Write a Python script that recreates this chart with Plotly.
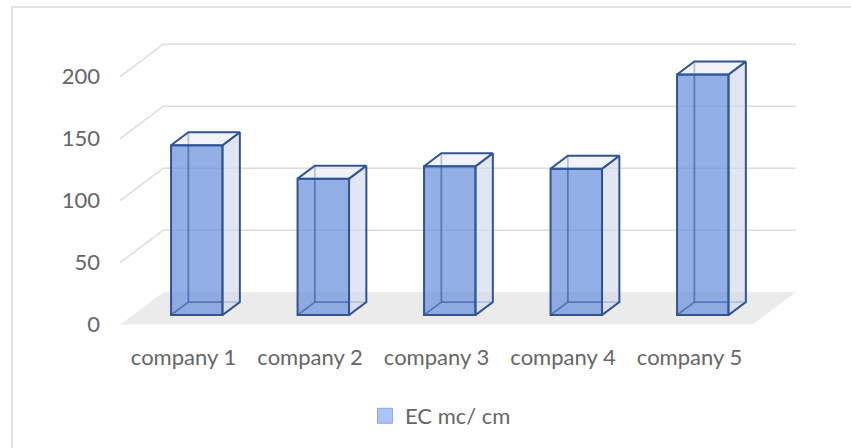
import plotly.graph_objects as go

# ---- data ----
categories = ["company 1", "company 2", "company 3", "company 4", "company 5"]
values = [137, 110, 120, 118, 194]
y_ticks = [0, 50, 100, 150, 200]
series_name = "EC mc/ cm"

# ---- geometry (pixel scale -> data units) ----
W_PX, H_PX = 851, 448
ML, MR, MT, MB = 103, 41, 30, 113
PX_X = 126.5           # px per category
PX_Y = 1.244           # px per value unit
X0_PX = 183.5          # pixel of category 0 (front plane)
Y0_PX = 325.5          # pixel of value 0 (front plane)

plot_w = W_PX - ML - MR
plot_h = H_PX - MT - MB
x_min = -(X0_PX - ML) / PX_X
x_max = x_min + plot_w / PX_X
y_min = -((H_PX - MB) - Y0_PX) / PX_Y
y_max = y_min + plot_h / PX_Y

FD_X, FD_Y = 43 / PX_X, 32.5 / PX_Y      # floor/wall depth
BF_X, BF_Y = 13.3 / PX_X, 9.5 / PX_Y     # bar front offset inside floor
BD_X, BD_Y = 17.3 / PX_X, 13.0 / PX_Y    # bar depth
BW = 51.5 / PX_X                          # bar width

EDGE = "#2F5597"
TXT = "#666666"
FONT = "Lato"
FS = 22

n = len(categories)
xs = list(range(n))
x_lo, x_hi = -0.5, n - 0.5

shapes = []
# floor
shapes.append(dict(
    type="path", xref="x", yref="y", layer="below",
    path=f"M{x_lo},0 L{x_hi},0 L{x_hi+FD_X},{FD_Y} L{x_lo+FD_X},{FD_Y} Z",
    fillcolor="#EBEBEB", line=dict(width=0)))
# gridlines (side wall diagonal + back wall)
for v in y_ticks[1:]:
    shapes.append(dict(
        type="path", xref="x", yref="y", layer="below",
        path=f"M{x_lo},{v} L{x_lo+FD_X},{v+FD_Y} L{x_hi+FD_X},{v+FD_Y}",
        line=dict(color="#DCDCDC", width=1.5)))

def px2paper_x(p):
    return (p - ML) / plot_w
def px2paper_y(p):
    return ((H_PX - MB) - p) / plot_h

# outer chart border
shapes.append(dict(type="rect", xref="paper", yref="paper",
                   x0=px2paper_x(12), x1=px2paper_x(870),
                   y0=px2paper_y(470), y1=px2paper_y(7),
                   line=dict(color="#D9D9D9", width=1.5), fillcolor="rgba(0,0,0,0)"))

fig = go.Figure()

# front faces as bars
fig.add_trace(go.Bar(
    x=[x + BF_X for x in xs], y=values, base=BF_Y, width=BW,
    name=series_name,
    marker=dict(color="rgba(110,150,220,0.75)", line=dict(color=EDGE, width=2)),
    hoverinfo="skip", showlegend=False))

hid_x, hid_y = [], []
side_x, side_y = [], []
top_x, top_y = [], []
for x, v in zip(xs, values):
    xl = x + BF_X - BW / 2
    xr = x + BF_X + BW / 2
    yb = BF_Y
    yt = BF_Y + v
    # hidden back edges
    hid_x += [xl, xl + BD_X, xl + BD_X, None, xl + BD_X, xr + BD_X, None]
    hid_y += [yb, yb + BD_Y, yt + BD_Y, None, yb + BD_Y, yb + BD_Y, None]
    hid_x += [xr, xr + BD_X, None]
    hid_y += [yb, yb + BD_Y, None]
    # right side face
    side_x += [xr, xr + BD_X, xr + BD_X, xr, xr, None]
    side_y += [yb, yb + BD_Y, yt + BD_Y, yt, yb, None]
    # top face
    top_x += [xl, xr, xr + BD_X, xl + BD_X, xl, None]
    top_y += [yt, yt, yt + BD_Y, yt + BD_Y, yt, None]

fig.add_trace(go.Scatter(x=hid_x, y=hid_y, mode="lines",
                         line=dict(color="rgba(47,85,151,0.6)", width=1.8),
                         hoverinfo="skip", showlegend=False))
fig.add_trace(go.Scatter(x=side_x, y=side_y, mode="lines", fill="toself",
                         fillcolor="rgba(210,216,232,0.65)",
                         line=dict(color=EDGE, width=2),
                         hoverinfo="skip", showlegend=False))
fig.add_trace(go.Scatter(x=top_x, y=top_y, mode="lines", fill="toself",
                         fillcolor="rgba(228,232,243,0.5)",
                         line=dict(color=EDGE, width=2),
                         hoverinfo="skip", showlegend=False))
# legend entry for the series
fig.add_trace(go.Scatter(x=[None], y=[None], mode="markers", name=series_name,
                         marker=dict(symbol="square", size=15, color="#A9C4F5",
                                     line=dict(color="#8FAADC", width=1)),
                         hoverinfo="skip", showlegend=True))

fig.update_layout(
    width=W_PX, height=H_PX,
    margin=dict(l=ML, r=MR, t=MT, b=MB),
    paper_bgcolor="white", plot_bgcolor="white",
    font=dict(family=FONT, color=TXT, size=FS),
    shapes=shapes,
    showlegend=True,
    legend=dict(orientation="h", x=px2paper_x(365), xanchor="left",
                y=px2paper_y(416), yanchor="middle",
                font=dict(family=FONT, size=FS, color=TXT),
                bgcolor="rgba(0,0,0,0)"),
    xaxis=dict(range=[x_min, x_max], tickvals=xs, ticktext=categories,
               showgrid=False, zeroline=False, showline=False,
               ticks="", ticklabelstandoff=8,
               tickfont=dict(family=FONT, size=FS, color=TXT), fixedrange=True),
    yaxis=dict(range=[y_min, y_max], tickvals=y_ticks,
               showgrid=False, zeroline=False, showline=False,
               ticks="", ticklabelstandoff=2,
               tickfont=dict(family=FONT, size=FS, color=TXT), fixedrange=True),
)

fig.write_html("out.html")
